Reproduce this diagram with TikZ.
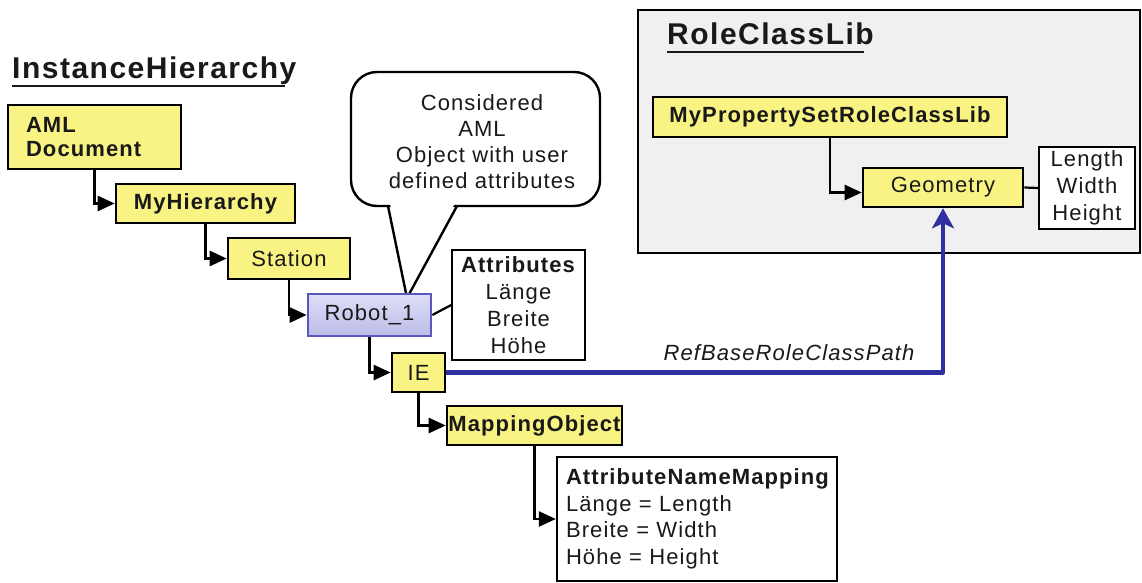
\documentclass[tikz,border=0pt]{standalone}
\usepackage{fontspec}
\setmainfont{Liberation Sans}[LetterSpace=5]
\usetikzlibrary{arrows.meta,calc}
\definecolor{boxyellow}{RGB}{248,243,130}
\definecolor{libgray}{RGB}{240,240,240}
\definecolor{refblue}{RGB}{48,48,160}
\definecolor{robotedge}{RGB}{88,88,190}
\definecolor{robottop}{RGB}{222,222,248}
\definecolor{robotbot}{RGB}{188,188,232}
\definecolor{ink}{RGB}{25,25,25}
\tikzset{
  x=1pt, y=-1pt,
  every node/.style={text=ink},
  txt/.style={font=\fontsize{22}{27}\selectfont},
  ybox/.style={draw=black, line width=2.6pt, fill=boxyellow, inner sep=0pt,
    txt, align=center},
  wbox/.style={draw=black, line width=1.6pt, fill=white, inner sep=0pt, txt},
  conn/.style={draw=black, line width=2.6pt,
    -{Triangle[length=17pt,width=15pt]}},
  plainline/.style={draw=black, line width=2.2pt},
  titletxt/.style={font=\fontsize{30}{32}\selectfont\bfseries, inner sep=0pt,
    anchor=base west},
  ulin/.style={draw=ink, line width=2.6pt},
}
\begin{document}
\begin{tikzpicture}
\useasboundingbox (0,0) rectangle (1142,583);

% role class library frame
\draw[fill=libgray, line width=2.2pt] (638,10) rectangle (1140,253);
\node[titletxt] (rcltitle) at (667,45) {RoleClassLib};
\draw[ulin] ([yshift=-7pt]rcltitle.base west) -- ([yshift=-7pt,xshift=-10pt]rcltitle.base east);

% instance hierarchy title
\node[titletxt] (ihtitle) at (12,79) {InstanceHierarchy};
\draw[ulin] ([yshift=-7pt]ihtitle.base west) -- ([yshift=-7pt,xshift=-12pt]ihtitle.base east);

% speech bubble
\draw[line width=2.4pt, fill=white, rounded corners=26pt] (351,72) rectangle (600,206);
\coordinate (tip) at (407,298);
\fill[white] (390,203) -- (tip) -- (455,203) -- cycle;
\draw[line width=2.4pt, line join=miter] (388,206) -- (tip) -- (457,206);
\node[txt, align=center, font=\fontsize{22}{26}\selectfont] (bubble) at (482,142)
  {Considered\\AML\\Object with user\\defined attributes};

% instance hierarchy boxes
\node[ybox, minimum width=173pt, minimum height=64pt, text width=137pt, align=left,
  font=\fontsize{22}{24}\selectfont\bfseries] (aml) at (94.5,137) {AML\\Document};
\node[ybox, minimum width=179pt, minimum height=39pt, font=\fontsize{22}{27}\selectfont\bfseries]
  (myh) at (205.5,203.5) {MyHierarchy};
\node[ybox, minimum width=122pt, minimum height=41pt] (station) at (289,258.5) {Station};
\node[draw=robotedge, line width=2.6pt, top color=robottop, bottom color=robotbot,
  inner sep=0pt, txt, minimum width=123pt, minimum height=42pt]
  (robot) at (369.5,315) {Robot\_1};
\node[wbox, minimum width=133pt, minimum height=110pt, align=center]
  (attr) at (518.5,305) {\textbf{Attributes}\\Länge\\Breite\\Höhe};
\node[ybox, minimum width=53pt, minimum height=39pt] (ie) at (418.5,372.5) {IE};
\node[ybox, minimum width=175pt, minimum height=39pt, font=\fontsize{22}{27}\selectfont\bfseries]
  (map) at (534.5,425.5) {MappingObject};
\node[wbox, line width=2.4pt, minimum width=280pt, minimum height=124pt, text width=262pt,
  align=left, font=\fontsize{22}{26.5}\selectfont]
  (anm) at (697,519) {\textbf{AttributeNameMapping}\\Länge = Length\\Breite = Width\\Höhe = Height};

% role class boxes
\node[ybox, minimum width=354pt, minimum height=40pt, font=\fontsize{22}{27}\selectfont\bfseries]
  (mps) at (830,117) {MyPropertySetRoleClassLib};
\node[ybox, minimum width=160pt, minimum height=39pt] (geo) at (943,187.5) {Geometry};
\node[wbox, minimum width=96pt, minimum height=82pt, align=center]
  (len) at (1087,188) {Length\\Width\\Height};

% hierarchy connectors
\draw[conn] (aml.south) |- (myh.west);
\draw[conn] (myh.south) |- (station.west);
\draw[conn] (station.south) |- (robot.west);
\draw[conn] (robot.south) |- (ie.west);
\draw[conn] (ie.south) |- (map.west);
\draw[conn] (map.south) |- (anm.west);
\draw[conn] (mps.south) |- ([yshift=-5pt]geo.west);
\draw[plainline] (robot.east) -- (attr.west);
\draw[plainline] (geo.east) -- (len.west);

% role class reference
\draw[refblue, line width=4.2pt, line join=round,
  -{Stealth[length=20pt,width=22pt,inset=5pt]}] (ie.east) -| (geo.south);
\node[txt, font=\fontsize{22}{27}\selectfont\itshape, anchor=base] (refpath) at (789,360)
  {RefBaseRoleClassPath};

\end{tikzpicture}
\end{document}
